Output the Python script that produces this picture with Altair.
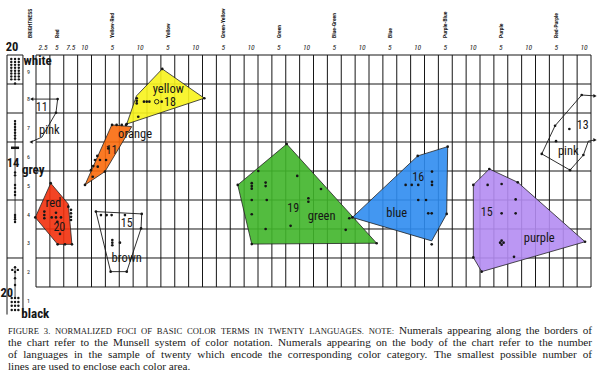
import altair as alt
import pandas as pd

# ---------------- axis / label data (hue steps on x, Munsell value on y) ----
HUE_NAMES = ["Red", "Yellow-Red", "Yellow", "Green-Yellow", "Green",
             "Blue-Green", "Blue", "Purple-Blue", "Purple", "Red-Purple"]
HUE_NAME_POS = [1.5, 5.5, 9.5, 13.5, 17.5, 21.5, 25.5, 29.5, 33.5, 37.5]
TICK_LABELS = ["2.5", "5", "7.5", "10"] + ["5", "10"] * 9
TICK_POS = [0.5, 1.5, 2.5, 3.5, 5.5, 7.5, 9.5, 11.5, 13.5, 15.5, 17.5, 19.5,
            21.5, 23.5, 25.5, 27.5, 29.5, 31.5, 33.5, 35.5, 37.5, 39.5]
VALUE_LABELS = ["9", "8", "7", "6", "5", "4", "3", "2", "1"]
VALUE_POS = [8.93, 8, 7, 6, 5, 4, 3, 2, 1]
GRID_COLS = list(range(0, 41))
GRID_ROWS = [1.5, 2.5, 3.5, 4.5, 5.5, 6.5, 7.5, 8.5, 9.5]
STRIP_COLS = [-2.09, -0.94]
STRIP_ROWS = [9.5, 8.5, 7.5, 6.5, 4.5, 2.5]

# ---------------- colour areas (polygon vertices) ----------------------------
YELLOW_H = [9.10, 12.13, 6.54, 7.24]
YELLOW_V = [9.02, 8.01, 7.12, 8.09]
ORANGE_H = [5.46, 6.90, 4.97, 3.53]
ORANGE_V = [7.09, 7.03, 5.48, 5.02]
RED_H = [1.06, 2.33, 2.59, 1.56, -0.05]
RED_V = [5.08, 4.36, 2.97, 2.97, 3.90]
GREEN_H = [18.07, 24.55, 15.55, 14.54]
GREEN_V = [6.43, 3.01, 2.98, 5.02]
BLUE_H = [29.67, 29.60, 28.52, 22.80, 27.51]
BLUE_V = [6.34, 4.02, 3.09, 3.90, 6.02]
PURPLE_H = [32.67, 34.72, 39.57, 32.12, 31.52, 31.52]
PURPLE_V = [5.57, 5.11, 3.06, 2.03, 2.52, 5.02]
BROWN_H = [4.32, 7.62, 7.57, 6.54, 5.38]
BROWN_V = [4.10, 4.02, 3.52, 2.03, 2.03]
PINK_L_H = [-0.31, 1.56, 1.44, 0.43, -0.36]
PINK_L_V = [7.98, 7.98, 7.51, 6.67, 6.50]
PINK_R_H = [40.29, 39.33, 37.41, 36.45, 38.49, 39.45, 39.81, 40.29]
PINK_R_V = [8.09, 8.12, 7.06, 6.09, 5.53, 6.05, 6.53, 6.57]
ARROW_L_H = [-0.36, -0.31]
ARROW_L_V = [6.50, 7.98]
ARROW_R_H = [40.29, 40.29]
ARROW_R_V = [8.09, 6.57]

# ---------------- foci dots ---------------------------------------------------
DOT_H = [
    # yellow
    7.26, 7.26, 7.26, 7.78, 7.98, 8.17, 9.06, 7.37, 9.10, 12.13, 6.54,
    # orange
    5.48, 5.81, 6.18, 6.49, 4.42, 4.25, 4.61, 5.05, 4.13, 4.45, 3.96, 4.97, 4.09, 5.21, 3.53,
    # red
    0.60, 0.60, 0.60, 1.13, 1.44, 1.80, 1.44, 1.54, 1.73, 1.56, 2.09, 2.59, 2.33,
    2.52, 2.52, 2.52, 2.52, 1.06, -0.05,
    # brown
    4.32, 4.68, 5.09, 5.45, 6.41, 7.62, 7.57, 5.50, 5.50, 5.50, 6.05, 5.38, 6.54,
    # green
    16.02, 15.55, 15.55, 15.55, 16.55, 16.55, 15.55, 16.63, 18.83, 19.63, 19.63,
    20.54, 15.55, 18.35, 16.55, 22.32, 22.58, 18.07, 24.55, 15.55, 14.54,
    # blue
    28.54, 26.64, 27.08, 27.55, 28.54, 28.54, 27.55, 28.11, 28.27, 28.52, 28.52,
    29.67, 27.51, 29.60, 22.80,
    # purple
    32.55, 33.56, 34.57, 33.56, 34.57, 33.45, 33.70, 33.56, 33.56, 34.45, 32.67,
    34.72, 39.57, 32.12, 31.52, 31.52,
    # pink
    1.56, 1.44, 39.33, 37.41, 38.44, 37.48, 36.45, 38.49, 39.45,
]
DOT_V = [
    8.01, 7.92, 7.83, 7.89, 7.89, 7.89, 7.89, 7.37, 9.02, 8.01, 7.12,
    7.09, 7.09, 7.09, 7.09, 6.02, 5.88, 5.88, 5.88, 5.67, 5.65, 5.53, 5.48, 5.30, 6.28, 5.02,
    4.10, 3.98, 3.87, 3.90, 3.90, 3.90, 4.06, 3.75, 3.33, 2.97, 2.97, 2.97, 4.27,
    4.16, 4.04, 3.92, 3.81, 5.08, 3.90,
    4.10, 3.98, 3.98, 3.98, 3.98, 4.02, 3.52, 3.12, 3.03, 2.94, 3.03, 2.03, 2.03,
    5.50, 5.08, 4.98, 4.89, 5.10, 4.98, 4.50, 4.50, 5.33, 4.56, 4.44,
    4.88, 4.01, 3.61, 3.50, 3.47, 3.87, 6.43, 3.01, 2.98, 5.02,
    5.48, 5.02, 5.02, 5.02, 5.13, 5.02, 4.50, 4.50, 4.04, 4.04, 2.97,
    6.34, 6.02, 4.02, 3.90,
    5.02, 5.05, 4.52, 4.04, 4.04, 3.03, 3.03, 3.10, 2.96, 2.54, 5.57,
    5.11, 3.06, 2.03, 2.52, 5.02,
    7.98, 7.51, 8.12, 7.06, 6.95, 6.53, 6.09, 5.53, 6.05,
]
RING_H = [8.70]
RING_V = [7.89]

# achromatic strip (white / grey / black)
ACH_H = (
    [-1.78, -1.51, -1.24] * 8 + [-1.51]
    + [-1.51] * 17
    + [-1.51, -1.71, -1.31, -1.51, -1.51, -1.51]
    + [-1.75, -1.51, -1.27] * 4
)
ACH_V = (
    [9.36] * 3 + [9.26] * 3 + [9.16] * 3 + [9.06] * 3 + [8.96] * 3 + [8.86] * 3
    + [8.76] * 3 + [8.66] * 3 + [8.52]
    + [7.22, 7.12, 7.02, 6.92, 6.82, 6.72, 6.62, 5.45, 5.35, 5.02, 4.91, 4.78, 4.67,
       3.98, 3.91, 3.84, 3.74]
    + [2.18, 2.09, 2.09, 2.02, 1.80, 1.57]
    + [1.12] * 3 + [0.98] * 3 + [0.85] * 3 + [0.71] * 3
)
GREY_LINE_V = [7.26, 3.72]
BLACK_LINE_V = [2.18, 1.15]
GREY_BAR_H = [-1.80, -1.22]
GREY_BAR_V = 6.30

# ---------------- labels ------------------------------------------------------
AREA_LABELS = ["yellow", "orange", "red", "brown", "pink", "green", "blue",
               "purple", "pink"]
AREA_LABEL_H = [9.53, 7.14, 1.25, 6.54, 0.96, 20.59, 26.0, 36.27, 38.36]
AREA_LABEL_V = [8.33, 6.78, 4.41, 2.49, 6.91, 3.95, 4.04, 3.18, 6.19]
COUNT_LABELS = ["18", "11", "20", "15", "11", "19", "16", "15", "13"]
COUNT_H = [9.66, 5.45, 1.68, 6.54, 0.41, 18.54, 27.55, 32.48, 39.40]
COUNT_V = [7.87, 6.22, 3.58, 3.70, 7.72, 4.21, 5.30, 4.10, 7.09]
ACH_LABELS = ["white", "grey", "black"]
ACH_LABEL_H = [0.12, -0.20, -0.05]
ACH_LABEL_V = [9.30, 5.53, 0.57]
ACH_COUNTS = ["20", "14", "20"]
ACH_COUNT_H = [-1.73, -1.66, -2.11]
ACH_COUNT_V = [9.78, 5.78, 1.28]

CAPTION_SC = "FIGURE 3. NORMALIZED FOCI OF BASIC COLOR TERMS IN TWENTY LANGUAGES. NOTE:"
CAPTION_LINES = [
    "Numerals appearing along the borders of",
    "the chart refer to the Munsell system of color notation. Numerals appearing on the body of the chart refer to the number",
    "of languages in the sample of twenty which encode the corresponding color category. The smallest possible number of",
    "lines are used to enclose each color area.",
]

# ---------------- helpers -----------------------------------------------------
H_MIN, H_MAX = -2.5946, 40.6486
V_MIN, V_MAX = -1.5690, 11.3966
PX0, PXS = 36.0, 13.875      # pixel of hue step 0, pixels per hue step
PY0, PYS = 55.0, 29.0        # pixel of value 9.5, pixels per value step
XS = alt.Scale(domain=[H_MIN, H_MAX], nice=False, zero=False)
YS = alt.Scale(domain=[V_MIN, V_MAX], nice=False, zero=False)
COND = "Roboto Condensed, Liberation Sans Narrow, DejaVu Sans Condensed, Roboto, sans-serif"
SERIF = "Liberation Serif, DejaVu Serif, serif"
INK = "#161616"

# Times / Liberation Serif advance widths (per 1000 em) for caption layout
_W = dict(zip("abcdefghijklmnopqrstuvwxyz",
              [444, 500, 444, 500, 444, 333, 500, 500, 278, 278, 500, 278, 778,
               500, 500, 500, 500, 333, 389, 278, 500, 500, 722, 500, 500, 444]))
_W.update(dict(zip("ABCDEFGHIJKLMNOPQRSTUVWXYZ",
                   [722, 667, 667, 722, 611, 556, 722, 722, 333, 389, 722, 611, 889,
                    722, 722, 556, 722, 667, 556, 611, 722, 722, 944, 722, 722, 611])))
_W.update({".": 250, ",": 250, ":": 278, " ": 250, "3": 500})


def wid(word, fs):
    return sum(_W.get(c, 500) for c in word) / 1000.0 * fs


def xe(f="h"):
    return alt.X(f"{f}:Q", scale=XS, axis=None)


def ye(f="v"):
    return alt.Y(f"{f}:Q", scale=YS, axis=None)


def text_layer(labels, hs, vs, **kw):
    df = pd.DataFrame({"t": labels, "h": hs, "v": vs})
    return alt.Chart(df).mark_text(**kw).encode(x=xe(), y=ye(), text="t:N")


layers = []

# grid
vgrid = pd.DataFrame({"h": GRID_COLS, "v": 1.5, "v2": 9.5})
hgrid = pd.DataFrame({"v": GRID_ROWS, "h": 0, "h2": 40})
layers.append(alt.Chart(vgrid).mark_rule(color=INK, strokeWidth=1).encode(
    x=xe(), y=ye(), y2="v2:Q"))
layers.append(alt.Chart(hgrid).mark_rule(color=INK, strokeWidth=1).encode(
    y=ye(), x=xe(), x2="h2:Q"))
# achromatic strip
sv = pd.DataFrame({"h": STRIP_COLS, "v": 9.5, "v2": 0.55})
sh = pd.DataFrame({"v": STRIP_ROWS, "h": STRIP_COLS[0], "h2": STRIP_COLS[1]})
layers.append(alt.Chart(sv).mark_rule(color=INK, strokeWidth=1).encode(
    x=xe(), y=ye(), y2="v2:Q"))
layers.append(alt.Chart(sh).mark_rule(color=INK, strokeWidth=1).encode(
    y=ye(), x=xe(), x2="h2:Q"))
al = pd.DataFrame({"h": [-1.51, -1.51], "v": [GREY_LINE_V[0], BLACK_LINE_V[0]],
                   "v2": [GREY_LINE_V[1], BLACK_LINE_V[1]]})
layers.append(alt.Chart(al).mark_rule(color=INK, strokeWidth=0.8).encode(
    x=xe(), y=ye(), y2="v2:Q"))
gb = pd.DataFrame({"h": [GREY_BAR_H[0]], "h2": [GREY_BAR_H[1]], "v": [GREY_BAR_V]})
layers.append(alt.Chart(gb).mark_rule(color=INK, strokeWidth=2.5).encode(
    y=ye(), x=xe(), x2="h2:Q"))

# filled colour areas
POLYS = [
    (YELLOW_H, YELLOW_V, "#f7f31c"),
    (ORANGE_H, ORANGE_V, "#fa6a0c"),
    (RED_H, RED_V, "#f2300c"),
    (GREEN_H, GREEN_V, "#40b52a"),
    (BLUE_H, BLUE_V, "#2f8cf0"),
    (PURPLE_H, PURPLE_V, "#b48cf2"),
]
for hs, vs, col in POLYS:
    df = pd.DataFrame({"h": hs, "v": vs, "i": list(range(len(hs)))})
    layers.append(alt.Chart(df).mark_line(
        interpolate="linear-closed", fill=col, fillOpacity=0.9,
        stroke="#222", strokeWidth=0.8).encode(x=xe(), y=ye(), order="i:Q"))

# outline-only areas
bdf = pd.DataFrame({"h": BROWN_H, "v": BROWN_V, "i": list(range(len(BROWN_H)))})
layers.append(alt.Chart(bdf).mark_line(interpolate="linear-closed", color=INK,
                                       strokeWidth=0.9).encode(x=xe(), y=ye(), order="i:Q"))
for hs, vs in [(PINK_L_H, PINK_L_V), (PINK_R_H, PINK_R_V)]:
    df = pd.DataFrame({"h": hs, "v": vs, "i": list(range(len(hs)))})
    layers.append(alt.Chart(df).mark_line(color=INK, strokeWidth=0.9).encode(
        x=xe(), y=ye(), order="i:Q"))
layers.append(alt.Chart(pd.DataFrame({"h": ARROW_L_H, "v": ARROW_L_V})).mark_point(
    shape="triangle-left", filled=True, size=14, color=INK, opacity=1).encode(x=xe(), y=ye()))
layers.append(alt.Chart(pd.DataFrame({"h": ARROW_R_H, "v": ARROW_R_V})).mark_point(
    shape="triangle-right", filled=True, size=14, color=INK, opacity=1).encode(x=xe(), y=ye()))

# dots
layers.append(alt.Chart(pd.DataFrame({"h": DOT_H, "v": DOT_V})).mark_circle(
    size=7, color=INK, opacity=1).encode(x=xe(), y=ye()))
layers.append(alt.Chart(pd.DataFrame({"h": ACH_H, "v": ACH_V})).mark_circle(
    size=6, color=INK, opacity=1).encode(x=xe(), y=ye()))
layers.append(alt.Chart(pd.DataFrame({"h": RING_H, "v": RING_V})).mark_point(
    shape="circle", filled=False, size=20, color=INK, strokeWidth=0.9, opacity=1).encode(x=xe(), y=ye()))

# labels
layers.append(text_layer(AREA_LABELS, AREA_LABEL_H, AREA_LABEL_V, font=COND,
                         fontSize=12.5, color=INK))
layers.append(text_layer(COUNT_LABELS, COUNT_H, COUNT_V, font=COND,
                         fontSize=12, color=INK))
layers.append(text_layer(ACH_LABELS, ACH_LABEL_H, ACH_LABEL_V, font=COND,
                         fontSize=13, fontWeight="bold", color=INK))
layers.append(text_layer(ACH_COUNTS, ACH_COUNT_H, ACH_COUNT_V, font=COND,
                         fontSize=12.5, fontWeight="bold", color=INK))
layers.append(text_layer(TICK_LABELS, TICK_POS, [9.75] * len(TICK_POS), font=COND,
                         fontSize=7.5, fontStyle="italic", color=INK))
layers.append(text_layer(VALUE_LABELS, [-0.54] * 9, VALUE_POS, font=COND,
                         fontSize=6, color=INK))
layers.append(text_layer(HUE_NAMES + ["BRIGHTNESS"], HUE_NAME_POS + [-0.43],
                         [10.09] * 11, font=COND, fontSize=5.5, fontWeight="bold",
                         angle=270, align="left", baseline="middle", color=INK))

# caption: justified word by word between the left and right margins
SC_FS, TX_FS = 8.6, 11.2
LEFT, RIGHT = 8.0, 592.0
BASELINES = [334.0, 345.9, 357.8, 369.7]
line_words = [
    [(w, SC_FS) for w in CAPTION_SC.split()] + [(w, TX_FS) for w in CAPTION_LINES[0].split()],
    [(w, TX_FS) for w in CAPTION_LINES[1].split()],
    [(w, TX_FS) for w in CAPTION_LINES[2].split()],
    [(w, TX_FS) for w in CAPTION_LINES[3].split()],
]
rows = []
for k, words in enumerate(line_words):
    widths = [wid(w, fs) for w, fs in words]
    if k < 3:
        gap = (RIGHT - LEFT - sum(widths)) / (len(words) - 1)
    else:
        gap = 0.25 * TX_FS
    x = LEFT
    for (w, fs), wd in zip(words, widths):
        rows.append({"t": w, "fs": fs,
                     "h": (x - PX0) / PXS, "v": 9.5 - (BASELINES[k] - PY0) / PYS})
        x += wd + gap
cap_df = pd.DataFrame(rows)
for fs in [SC_FS, TX_FS]:
    layers.append(alt.Chart(cap_df[cap_df.fs == fs]).mark_text(
        font=SERIF, fontSize=fs, align="left", baseline="alphabetic",
        color="#202020").encode(x=xe(), y=ye(), text="t:N"))

chart = alt.layer(*layers).properties(
    width=600, height=376, padding=0, autosize=alt.AutoSizeParams(type="none"),
    background="white",
).configure_view(stroke=None)

chart.save("out.html", embed_options={"renderer": "svg", "actions": False})
